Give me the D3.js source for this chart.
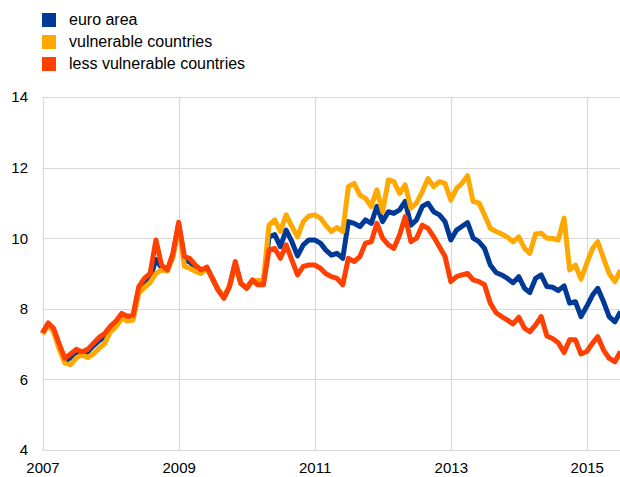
<!DOCTYPE html>
<html>
<head>
<meta charset="utf-8">
<script src="https://cdn.jsdelivr.net/npm/d3@7"></script>
<style>
  html, body { margin: 0; padding: 0; background: #fff; }
  svg { display: block; font-family: "Liberation Sans", Arial, sans-serif; }
</style>
</head>
<body>
<svg id="chart" width="620" height="477"></svg>
<script>
// ---- data (monthly, starting January 2007) ----
const startYear = 2007;
const seriesNames = ["euro area", "vulnerable countries", "less vulnerable countries"];
const seriesColors = ["#003a96", "#ffa800", "#ff4000"];

const euroArea = [
  7.30, 7.58, 7.40, 6.93, 6.52, 6.62, 6.78, 6.70, 6.78, 6.95, 7.10, 7.20,
  7.43, 7.58, 7.80, 7.72, 7.75, 8.55, 8.72, 8.85, 9.40, 9.17, 9.08, 9.50,
  10.40, 9.38, 9.33, 9.15, 9.05, 9.17, 8.86, 8.54, 8.32, 8.64, 9.28, 8.72,
  8.59, 8.80, 8.74, 8.74, 10.04, 10.10, 9.76, 10.23, 9.90, 9.50, 9.81, 9.95,
  9.95, 9.86, 9.67, 9.52, 9.57, 9.43, 10.47, 10.42, 10.33, 10.52, 10.42, 10.90,
  10.47, 10.75, 10.70, 10.80, 11.04, 10.37, 10.52, 10.90, 10.99, 10.75, 10.66, 10.47,
  9.95, 10.23, 10.33, 10.44, 10.00, 9.90, 9.71, 9.24, 9.03, 8.96, 8.86, 8.74,
  8.91, 8.58, 8.46, 8.86, 8.96, 8.63, 8.61, 8.52, 8.65, 8.16, 8.20, 7.78,
  8.07, 8.39, 8.58, 8.20, 7.78, 7.63, 7.92
];
const vulnerable = [
  7.28, 7.55, 7.35, 6.85, 6.46, 6.42, 6.60, 6.70, 6.62, 6.72, 6.88, 7.02,
  7.35, 7.50, 7.73, 7.65, 7.68, 8.45, 8.60, 8.75, 9.00, 9.10, 9.08, 9.45,
  10.35, 9.20, 9.15, 9.06, 9.00, 9.15, 8.86, 8.55, 8.35, 8.65, 9.20, 8.72,
  8.60, 8.78, 8.80, 8.80, 10.37, 10.52, 10.19, 10.66, 10.33, 10.04, 10.47, 10.63,
  10.66, 10.57, 10.37, 10.19, 10.30, 10.19, 11.46, 11.55, 11.22, 11.13, 10.90, 11.37,
  10.75, 11.65, 11.60, 11.27, 11.51, 10.85, 11.00, 11.32, 11.69, 11.46, 11.60, 11.55,
  11.08, 11.41, 11.55, 11.77, 11.04, 11.00, 10.66, 10.28, 10.19, 10.12, 10.03, 9.90,
  10.04, 9.71, 9.57, 10.12, 10.14, 10.00, 9.99, 9.95, 10.57, 9.10, 9.24, 8.84,
  9.29, 9.71, 9.90, 9.43, 9.00, 8.77, 9.10
];
const lessVulnerable = [
  7.32, 7.60, 7.45, 7.00, 6.60, 6.72, 6.85, 6.78, 6.85, 7.02, 7.19, 7.30,
  7.51, 7.66, 7.87, 7.79, 7.82, 8.63, 8.86, 9.00, 9.95, 9.24, 9.10, 9.57,
  10.45, 9.48, 9.43, 9.24, 9.10, 9.18, 8.86, 8.53, 8.30, 8.63, 9.34, 8.72,
  8.58, 8.82, 8.68, 8.68, 9.67, 9.71, 9.43, 9.81, 9.38, 8.96, 9.20, 9.24,
  9.24, 9.15, 9.00, 8.91, 8.86, 8.68, 9.43, 9.34, 9.48, 9.86, 9.90, 10.42,
  10.00, 9.81, 9.71, 10.09, 10.61, 9.90, 10.00, 10.37, 10.28, 10.04, 9.76, 9.48,
  8.77, 8.91, 8.96, 9.00, 8.82, 8.77, 8.68, 8.16, 7.89, 7.78, 7.68, 7.57,
  7.76, 7.45, 7.35, 7.54, 7.78, 7.23, 7.16, 7.04, 6.76, 7.12, 7.12, 6.72,
  6.79, 7.03, 7.21, 6.83, 6.60, 6.50, 6.79
];
const yTicks = [4, 6, 8, 10, 12, 14];
const xTickYears = [2007, 2009, 2011, 2013, 2015];

// ---- layout ----
const svg = d3.select("#chart");
const plotLeft = 42.5, plotRight = 620.5, plotTop = 97, plotBottom = 450;

const x = d3.scaleTime()
  .domain([new Date(2007, 0, 1), new Date(2015, 6, 1)])
  .range([plotLeft, plotRight]);
const y = d3.scaleLinear().domain([4, 14]).range([plotBottom, plotTop]);

const dateAt = i => new Date(startYear, i, 1);

// grid
const grid = svg.append("g");
grid.selectAll("line.h").data(yTicks).enter().append("line")
  .attr("x1", plotLeft).attr("x2", 620)
  .attr("y1", d => Math.round(y(d)) + 0.5).attr("y2", d => Math.round(y(d)) + 0.5)
  .attr("stroke", "#d9d9d9").attr("stroke-width", 1.2);
grid.selectAll("line.v").data(xTickYears).enter().append("line")
  .attr("x1", d => Math.round(x(new Date(d, 0, 1))) + 0.5)
  .attr("x2", d => Math.round(x(new Date(d, 0, 1))) + 0.5)
  .attr("y1", plotTop).attr("y2", plotBottom)
  .attr("stroke", "#d9d9d9").attr("stroke-width", 1.2);

// y axis labels
const yAxis = d3.axisLeft(y).tickValues(yTicks).tickSize(0).tickPadding(0);
const yg = svg.append("g").attr("transform", `translate(28,0)`).call(yAxis);
yg.select(".domain").remove();
yg.selectAll("text").attr("font-size", 15).attr("fill", "#000")
  .attr("font-family", "Liberation Sans, Arial, sans-serif");

// x axis labels
const xAxis = d3.axisBottom(x)
  .tickValues(xTickYears.map(yr => new Date(yr, 0, 1)))
  .tickFormat(d3.timeFormat("%Y")).tickSize(0).tickPadding(0);
const xg = svg.append("g").attr("transform", `translate(0,${plotBottom + 12})`).call(xAxis);
xg.select(".domain").remove();
xg.selectAll("text").attr("font-size", 15).attr("fill", "#000")
  .attr("font-family", "Liberation Sans, Arial, sans-serif");

// lines
svg.append("clipPath").attr("id", "clip").append("rect")
  .attr("x", 0).attr("y", 0).attr("width", 620).attr("height", 477);
const line = d3.line().x((d, i) => x(dateAt(i))).y(d => y(d)).curve(d3.curveLinear);
const allSeries = [euroArea, vulnerable, lessVulnerable];
svg.append("g").attr("clip-path", "url(#clip)")
  .selectAll("path").data(allSeries).enter().append("path")
  .attr("d", d => line(d))
  .attr("fill", "none")
  .attr("stroke", (d, i) => seriesColors[i])
  .attr("stroke-width", 5)
  .attr("stroke-linejoin", "round")
  .attr("stroke-linecap", "butt");

// legend
const lg = svg.append("g");
const items = lg.selectAll("g").data(seriesNames).enter().append("g")
  .attr("transform", (d, i) => `translate(42,${13 + i * 22})`);
items.append("rect").attr("width", 14).attr("height", 14)
  .attr("fill", (d, i) => seriesColors[i]);
items.append("text").attr("x", 27).attr("y", 12.3)
  .attr("font-size", 16).attr("fill", "#000")
  .text(d => d);
</script>
</body>
</html>
